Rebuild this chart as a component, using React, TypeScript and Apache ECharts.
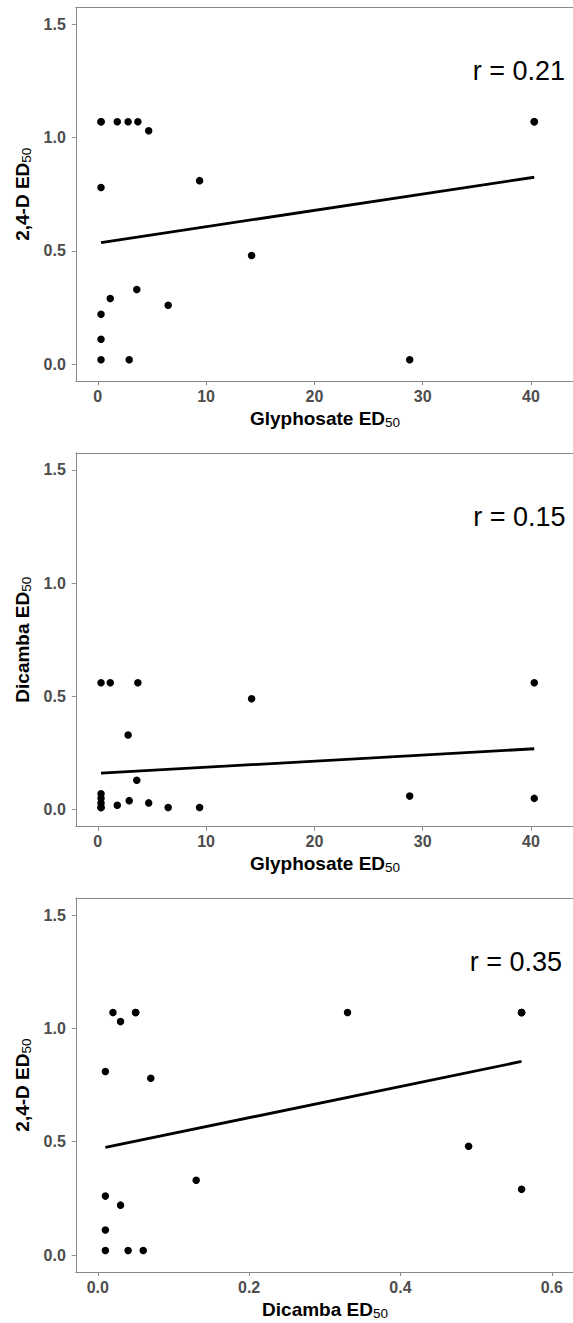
import React, { useEffect, useRef } from "react";
import * as echarts from "echarts";

// Sample values (ED50 of each population)
const glyphosate = [0.3, 0.3, 0.3, 0.3, 0.3, 0.3, 1.8, 2.8, 3.7, 4.7, 40.3, 40.3, 9.4, 14.2, 3.6, 1.15, 6.5, 2.9, 28.8];
const d24 = [1.07, 1.07, 0.78, 0.22, 0.11, 0.02, 1.07, 1.07, 1.07, 1.03, 1.07, 1.07, 0.81, 0.48, 0.33, 0.29, 0.26, 0.02, 0.02];
const dicamba = [0.56, 0.05, 0.07, 0.03, 0.01, 0.01, 0.02, 0.33, 0.56, 0.03, 0.05, 0.56, 0.01, 0.49, 0.13, 0.56, 0.01, 0.04, 0.06];

// Fitted regression lines (end points)
const fitGlyD24 = [[0.3, 0.537], [40.3, 0.825]];
const fitGlyDic = [[0.3, 0.161], [40.3, 0.269]];
const fitDicD24 = [[0.01, 0.475], [0.56, 0.854]];

const rLabels = ["r = 0.21", "r = 0.15", "r = 0.35"];

const edTicks = [0, 0.5, 1.0, 1.5];
const glyTicks = [0, 10, 20, 30, 40];
const dicTicks = [0, 0.2, 0.4, 0.6];

const FONT = "'Liberation Sans', Arial, Helvetica, sans-serif";
const AXIS_GREY = "#8a8a8a";
const LABEL_GREY = "#4d4d4d";

const zip = (a: number[], b: number[]) => a.map((v, i) => [v, b[i]]);

export default function App() {
  const ref = useRef<HTMLDivElement>(null);

  useEffect(() => {
    document.body.style.margin = "0";
    if (!ref.current) return;
    const chart = echarts.init(ref.current, undefined, { renderer: "svg" });

    const panels = [
      { x: glyphosate, y: d24, fit: fitGlyD24, xName: "Glyphosate ED", yName: "2,4-D ED", xTicks: glyTicks, xMin: -2.03, xMax: 45.06, xFmt: (v: number) => String(v) },
      { x: glyphosate, y: dicamba, fit: fitGlyDic, xName: "Glyphosate ED", yName: "Dicamba ED", xTicks: glyTicks, xMin: -2.03, xMax: 45.06, xFmt: (v: number) => String(v) },
      { x: dicamba, y: d24, fit: fitDicD24, xName: "Dicamba ED", yName: "2,4-D ED", xTicks: dicTicks, xMin: -0.0291, xMax: 0.6449, xFmt: (v: number) => v.toFixed(1) },
    ];

    const tops = [7.3, 452.8, 898.1];
    const gridLeft = 75.8;
    const gridW = 510;
    const gridH = 373.9;
    const rRight = [565, 565.5, 562];

    const grid = tops.map((t) => ({
      left: gridLeft,
      top: t,
      width: gridW,
      height: gridH,
      show: false,
      containLabel: false,
      outerBoundsMode: "none",
    }));

    const axisLineStyle = { show: true, onZero: false, lineStyle: { color: AXIS_GREY, width: 1 } };

    const xAxis: any[] = panels.map((p, i) => ({
      type: "value",
      gridIndex: i,
      position: "bottom",
      min: p.xMin,
      max: p.xMax,
      axisLine: axisLineStyle,
      axisTick: { show: true, length: 4, customValues: p.xTicks, lineStyle: { color: AXIS_GREY, width: 1 } },
      axisLabel: {
        show: true,
        customValues: p.xTicks,
        formatter: (v: number) => p.xFmt(v),
        color: LABEL_GREY,
        fontSize: 16,
        fontWeight: "bold",
        fontFamily: FONT,
        margin: 7,
      },
      splitLine: { show: false },
    }));
    // top border of each panel
    panels.forEach((p, i) => {
      xAxis.push({
        type: "value",
        gridIndex: i,
        position: "top",
        min: p.xMin,
        max: p.xMax,
        axisLine: axisLineStyle,
        axisTick: { show: false },
        axisLabel: { show: false },
        splitLine: { show: false },
      });
    });

    const yAxis = panels.map((_p, i) => ({
      type: "value",
      gridIndex: i,
      min: -0.075,
      max: 1.575,
      axisLine: axisLineStyle,
      axisTick: { show: true, length: 4, customValues: edTicks, lineStyle: { color: AXIS_GREY, width: 1 } },
      axisLabel: {
        show: true,
        customValues: edTicks,
        formatter: (v: number) => v.toFixed(1),
        color: LABEL_GREY,
        fontSize: 16,
        fontWeight: "bold",
        fontFamily: FONT,
        margin: 10,
      },
      splitLine: { show: false },
    }));

    const series: any[] = [];
    panels.forEach((p, i) => {
      series.push({
        type: "line",
        xAxisIndex: i,
        yAxisIndex: i,
        data: p.fit,
        symbol: "none",
        lineStyle: { color: "#000", width: 2.8 },
        z: 3,
      });
      series.push({
        type: "scatter",
        xAxisIndex: i,
        yAxisIndex: i,
        data: zip(p.x, p.y),
        symbol: "circle",
        symbolSize: 7.5,
        itemStyle: { color: "#000", opacity: 1 },
        z: 4,
      });
    });

    const rich = {
      a: { fontSize: 19, fontWeight: "bold", fontFamily: FONT, fill: "#000", lineHeight: 22 },
      b: { fontSize: 13.5, fontWeight: "normal", fontFamily: FONT, fill: "#000", verticalAlign: "bottom" },
    };

    const graphic: any[] = [];
    panels.forEach((p, i) => {
      const top = tops[i];
      const bottom = top + gridH;
      graphic.push({
        type: "text",
        x: rRight[i],
        y: top + 64,
        style: { text: rLabels[i], fontSize: 27, fontFamily: FONT, fill: "#000", align: "right", verticalAlign: "middle" },
      });
      graphic.push({
        type: "text",
        x: 325,
        y: bottom + 37,
        style: { text: `{a|${p.xName}}{b|50}`, rich, align: "center", verticalAlign: "middle" },
      });
      graphic.push({
        type: "text",
        x: 22,
        y: top + gridH / 2,
        rotation: Math.PI / 2,
        style: { text: `{a|${p.yName}}{b|50}`, rich, align: "center", verticalAlign: "middle" },
      });
    });

    chart.setOption({
      animation: false,
      backgroundColor: "#fff",
      grid,
      xAxis,
      yAxis,
      series,
      graphic,
    });

    return () => chart.dispose();
  }, []);

  return <div ref={ref} style={{ width: 573, height: 1323 }} />;
}
